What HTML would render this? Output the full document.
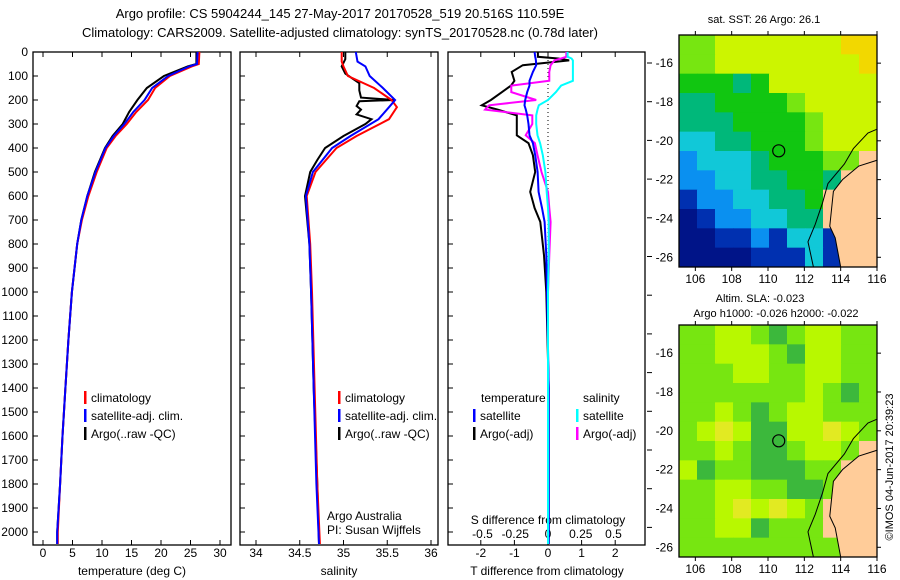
<!DOCTYPE html>
<html><head><meta charset="utf-8">
<style>
body{margin:0;background:#fff;}
svg{display:block;font-family:"Liberation Sans",sans-serif;}
text{fill:#000;}
</style></head>
<body>
<svg id="s" width="900" height="580" viewBox="0 0 900 580">
<text x="340" y="18" font-size="13" text-anchor="middle">Argo profile: CS 5904244_145 27-May-2017 20170528_519 20.516S 110.59E</text>
<text x="340" y="37" font-size="13" text-anchor="middle">Climatology: CARS2009. Satellite-adjusted climatology: synTS_20170528.nc (0.78d later)</text>
<g id="plots"></g>
<text x="764" y="23" font-size="11" text-anchor="middle">sat. SST: 26 Argo: 26.1</text>
<text x="760" y="302" font-size="11" text-anchor="middle">Altim. SLA: -0.023</text>
<text x="776" y="317" font-size="11" text-anchor="middle">Argo h1000: -0.026 h2000: -0.022</text>
<text transform="translate(893,467) rotate(-90)" font-size="11" text-anchor="middle">©IMOS 04-Jun-2017 20:39:23</text>
</svg>
<script>
// ---- data ----
const tDepth=[0,50,60,100,150,200,250,300,350,400,500,600,700,800,1000,1200,1400,1600,1800,2000,2050];
const tClim=[26.5,26.4,25.2,21.5,19.0,17.8,15.8,14.2,12.3,10.8,9.1,7.7,6.6,5.8,4.9,4.3,3.8,3.3,2.9,2.5,2.5];
const tSat=[26.2,26.1,24.8,21.2,18.5,17.2,15.3,13.8,12.0,10.6,8.9,7.5,6.5,5.8,4.9,4.3,3.8,3.3,2.9,2.4,2.4];
const tArgo=[26.0,26.0,24.5,20.5,17.6,16.0,14.6,13.5,11.8,10.5,8.8,7.5,6.5,5.8,4.9,4.3,3.8,3.3,2.9,2.4,2.4];
const sDepth=[0,40,60,100,150,200,230,280,350,400,500,600,800,1000,1400,1800,2050];
const sClim=[34.98,34.98,35.0,35.05,35.35,35.55,35.61,35.52,35.15,34.92,34.68,34.58,34.62,34.64,34.67,34.70,34.73];
const sSat=[35.14,35.16,35.25,35.30,35.45,35.59,35.52,35.40,35.08,34.87,34.65,34.57,34.61,34.63,34.66,34.69,34.72];
const aDepth=[0,30,60,90,110,130,160,190,200,205,225,240,260,280,300,350,400,450,500,600,800,1000,1400,1800,2050];
const sArgo=[35.02,35.02,34.98,35.02,35.10,35.18,35.18,35.20,35.58,35.18,35.15,35.20,35.15,35.32,35.25,35.0,34.79,34.70,34.62,34.56,34.61,34.63,34.66,34.70,34.72];
const dDepth=[0,20,27,35,55,83,120,140,167,200,222,240,264,300,347,380,430,500,583,650,708,847,1000,1400,2050];
const dTsat=[-0.40,-0.38,-0.37,-0.36,-0.35,-0.45,-0.55,-0.55,-0.62,-0.68,-0.70,-0.66,-0.62,-0.58,-0.55,-0.45,-0.38,-0.31,-0.28,-0.18,-0.10,-0.05,-0.03,0.02,0.02];
const dTargo=[-0.30,-0.30,0.30,0.63,-0.75,-1.08,-1.00,-1.10,-1.37,-1.70,-1.97,-1.50,-0.93,-0.93,-0.93,-0.58,-0.45,-0.38,-0.53,-0.40,-0.23,-0.12,-0.05,0.02,0.02];
const dSargo=[0.14,0.14,0.10,0.05,0.02,0.01,0.01,-0.28,-0.28,-0.09,-0.45,-0.48,-0.12,-0.12,-0.17,-0.10,-0.08,-0.05,0.00,0.01,0.02,0.01,0.00,0.00,0.00];
const dSsat=[0.15,0.15,0.18,0.19,0.19,0.19,0.19,0.10,0.06,0.0,-0.07,-0.08,-0.09,-0.09,-0.08,-0.06,-0.04,-0.02,-0.01,0.0,0.005,0.005,0.0,0.0,0.0];
const depthTicks=[0,100,200,300,400,500,600,700,800,900,1000,1100,1200,1300,1400,1500,1600,1700,1800,1900,2000];
const tTicks=[0,5,10,15,20,25,30];
const salTicks=[34,34.5,35,35.5,36];
const salTickLabels=["34","34.5","35","35.5","36"];
const dTTicks=[-2,-1,0,1,2];
const dSTicks=[-0.5,-0.25,0,0.25,0.5];
const lonTicks=[106,108,110,112,114,116];
const latTicks=[-16,-18,-20,-22,-24,-26];
const sstRows=["LLYYYYYYYOO","LLYYYYYYYYO","GGGTGYYYYYY","TTGGGGLYYYY","TTTGGGGLYYY","CCTTGGGLYYY","BCCCTGGGLLS","BBCCTTGGTSS","DBBCCTTGSSS","NDBBCCTTSSS","NNDDBDCCDSS","NNNNDDDCDSS"];
const slaRows=["LLYYLGLYYLL","LLYYYLGYYLL","LLLYYLLYYLL","LLLLLLLYLGL","LLYLGLYYLLL","LYWYGGYYWYL","LLYLGGLYYLS","YGLLGGGLLSS","LLYYLLGGLSS","LLYWYWYLSSS","LLYYGLLLSSS","LLLLLLLLLSS"];
const argoLon=110.59, argoLat=-20.516;

// ---- scales ----
const NS="http://www.w3.org/2000/svg";
const root=document.getElementById('plots');
function mk(tag,at,par){const e=document.createElementNS(NS,tag);for(const k in at)e.setAttribute(k,at[k]);(par||root).appendChild(e);return e;}
const Y=d=>52+d*0.24;
const xT=v=>43+v*5.9;
const xS=v=>256+(v-34)*87.5;
const xD=v=>548+v*33.6;
const xDs=v=>548+v*131;
const PT=52,PB=545;

function frame(x0,x1,name){
  const r=mk('rect',{x:x0,y:PT,width:x1-x0,height:PB-PT,fill:'none',stroke:'#000','stroke-width':1.3});
  
  
}
function line(xs,ys,fx,color,w,name){
  const pts=ys.map((d,i)=>fx(xs[i]).toFixed(1)+','+Y(d).toFixed(1)).join(' ');
  const p=mk('polyline',{points:pts,fill:'none',stroke:color,'stroke-width':w,'stroke-linejoin':'miter'});
  
  
}
function txt(x,y,s,size,anchor,name){
  const t=mk('text',{x:x,y:y,'font-size':size,'text-anchor':anchor||'start'});
  t.textContent=s;
  
  
  return t;
}
function xticks(vals,fx,labels,ly,name){
  vals.forEach((v,i)=>{const x=fx(v);
    mk('line',{x1:x,y1:PT,x2:x,y2:PT+5,stroke:'#000'});
    mk('line',{x1:x,y1:PB,x2:x,y2:PB-5,stroke:'#000'});
    if(labels) txt(x,ly,labels[i],12,'middle',name);
  });
}
// panels
frame(33,231,'temperature-panel');
frame(240,438,'salinity-panel');
frame(448,645,'difference-panel');
depthTicks.forEach(d=>{
  [33,240,448].forEach(x0=>mk('line',{x1:x0,y1:Y(d),x2:x0+5,y2:Y(d),stroke:'#000'}));
  txt(28,Y(d)+4,String(d),12,'end','depth-tick-label');
});
for(let y=63;y<PB;y+=38.7) mk('line',{x1:647,y1:y,x2:652,y2:y,stroke:'#000'});
xticks(tTicks,xT,tTicks.map(String),557,'temp-tick-label');
xticks(salTicks,xS,salTickLabels,557,'salinity-tick-label');
xticks(dTTicks,xD,dTTicks.map(String),557,'tdiff-tick-label');
dSTicks.forEach(v=>txt(xDs(v),538,String(v),12,'middle','sdiff-tick-label'));
txt(132,575,'temperature (deg C)',12,'middle','temperature-axis-title');
txt(339,575,'salinity',12,'middle','salinity-axis-title');
txt(547,575,'T difference from climatology',12,'middle','tdiff-axis-title');
txt(548,524,'S difference from climatology',12,'middle','sdiff-axis-title');
// zero line
const z=mk('line',{x1:xD(0),y1:PT,x2:xD(0),y2:PB,stroke:'#000','stroke-dasharray':'1,3'});


// series
line(tArgo,tDepth,xT,'#000',2,'temp-argo-line');
line(tClim,tDepth,xT,'#f00',2,'temp-climatology-line');
line(tSat,tDepth,xT,'#00f',2,'temp-satellite-line');
line(sArgo,aDepth,xS,'#000',2,'salinity-argo-line');
line(sClim,sDepth,xS,'#f00',2,'salinity-climatology-line');
line(sSat,sDepth,xS,'#00f',2,'salinity-satellite-line');
line(dTargo,dDepth,xD,'#000',2,'tdiff-argo-line');
line(dSargo,dDepth,xDs,'#f0f',2,'sdiff-argo-line');
line(dTsat,dDepth,xD,'#00f',2,'tdiff-satellite-line');
line(dSsat,dDepth,xDs,'#0ff',2,'sdiff-satellite-line');
// legends
function leg(x,y,c,s,name){
  const b=mk('rect',{x:x,y:y-11,width:2.5,height:13,fill:c});
  
  
  txt(x+7,y,s,12,'start',name);
}
leg(84,402,'#f00','climatology','legend-climatology');
leg(84,420,'#00f','satellite-adj. clim.','legend-satellite-adj');
leg(84,438,'#000','Argo(..raw -QC)','legend-argo');
leg(338,402,'#f00','climatology','legend2-climatology');
leg(338,420,'#00f','satellite-adj. clim.','legend2-satellite-adj');
leg(338,438,'#000','Argo(..raw -QC)','legend2-argo');
txt(481,402,'temperature',12,'start','legend-temperature-heading');
txt(583,402,'salinity',12,'start','legend-salinity-heading');
leg(473,420,'#00f','satellite','legend-t-satellite');
leg(473,438,'#000','Argo(-adj)','legend-t-argo');
leg(576,420,'#0ff','satellite','legend-s-satellite');
leg(576,438,'#f0f','Argo(-adj)','legend-s-argo');
txt(327,520,'Argo Australia',12,'start','credit-argo-australia');
txt(327,534,'PI: Susan Wijffels',12,'start','credit-pi');

// ---- maps ----
const sstCol={L:'#77e611',Y:'#ccf500',O:'#f2d800',G:'#11c611',T:'#00b87a',C:'#11c8d8',B:'#0a90f0',D:'#0030b0',N:'#001488',S:'#ffcc99'};
const slaCol={L:'#77e611',Y:'#b8f800',W:'#e2ea22',G:'#3cb83c',S:'#ffcc99'};
const L0=105.1,L1=116,LA0=-14.55,LA1=-26.5;
function drawMap(top,bot,rows,cols,name){
  const X=lon=>679+(lon-L0)*(198/(L1-L0));
  const YY=lat=>top+(lat-LA0)*((bot-top)/(LA1-LA0));
  const g=mk('g',{});
  
  
  const nr=rows.length,nc=rows[0].length;
  rows.forEach((r,i)=>{for(let j=0;j<nc;j++){
    const x0=X(L0+j*(L1-L0)/nc),x1=X(L0+(j+1)*(L1-L0)/nc);
    const y0=YY(LA0+i*(LA1-LA0)/nr),y1=YY(LA0+(i+1)*(LA1-LA0)/nr);
    mk('rect',{x:x0,y:y0,width:x1-x0+0.5,height:y1-y0+0.5,fill:cols[r[j]]},g);
  }});
  const land=[[116,-21],[115,-21.3],[114.1,-22],[113.6,-22.6],[113.5,-23.5],[113.4,-24.4],[113.7,-25],[114,-26.5],[116,-26.5]];
  mk('polygon',{points:land.map(p=>X(p[0])+','+YY(p[1])).join(' '),fill:'#ffcc99',stroke:'#000','stroke-width':1},g);
  const shelf=[[116,-19.4],[115.5,-19.6],[114.7,-20.4],[114.2,-21.2],[113.3,-22.2],[113,-23.2],[112.6,-24.3],[112.2,-25.2],[112.5,-26.5]];
  mk('polyline',{points:shelf.map(p=>X(p[0])+','+YY(p[1])).join(' '),fill:'none',stroke:'#000','stroke-width':1},g);
  mk('rect',{x:679,y:top,width:198,height:bot-top,fill:'none',stroke:'#000','stroke-width':1.3},g);
  const c=mk('circle',{cx:X(argoLon),cy:YY(argoLat),r:6,fill:'none',stroke:'#000','stroke-width':1.2},g);
  
  
  lonTicks.forEach(v=>{mk('line',{x1:X(v),y1:top,x2:X(v),y2:top-4,stroke:'#000'});mk('line',{x1:X(v),y1:bot,x2:X(v),y2:bot+4,stroke:'#000'});
    txt(X(v),bot+16,String(v),12,'middle',name+'-lon-label');});
  latTicks.forEach(v=>{mk('line',{x1:877,y1:YY(v),x2:881,y2:YY(v),stroke:'#000'});
    txt(673,YY(v)+4,String(v),12,'end',name+'-lat-label');});
}
drawMap(35,267,sstRows,sstCol,'sst-map');
drawMap(325,557,slaRows,slaCol,'sla-map');
</script>
</body></html>
